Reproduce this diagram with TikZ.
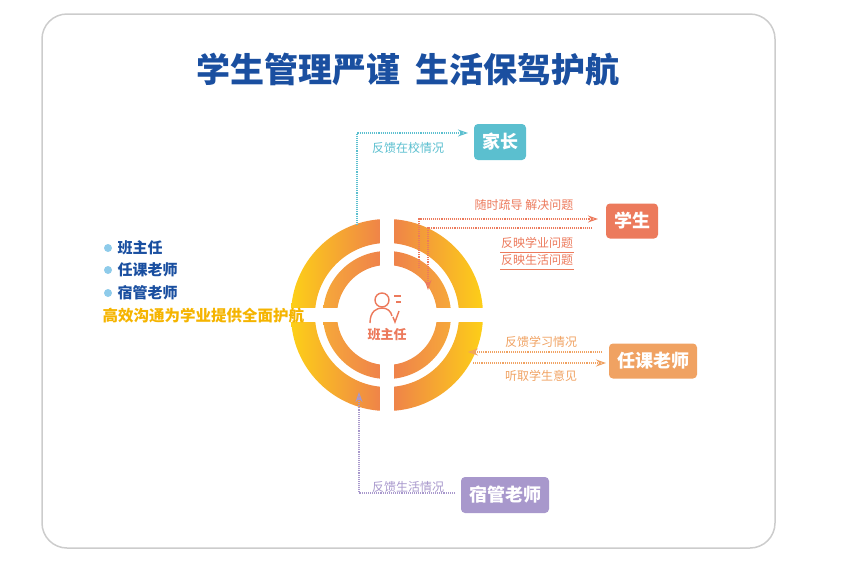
\documentclass[tikz,border=0pt]{standalone}
\usepackage{fontspec}
\setmainfont{Noto Sans CJK SC}
\usetikzlibrary{arrows.meta}
\definecolor{tblue}{HTML}{1A4FA0}
\definecolor{cpar}{HTML}{5BBFCF}
\definecolor{cstu}{HTML}{EC7A5C}
\definecolor{ctea}{HTML}{F0A262}
\definecolor{cdor}{HTML}{A898CC}
\definecolor{cY}{HTML}{FDD017}
\definecolor{cO}{HTML}{EE7E4C}
\definecolor{cY2}{HTML}{F6A93A}
\definecolor{cgold}{HTML}{F5B400}
\definecolor{cdot}{HTML}{8ECBEA}
\begin{document}
\begin{tikzpicture}[x=1pt,y=-1pt,
  box/.style={rounded corners=4pt,text=white,font=\bfseries\fontsize{18}{18}\selectfont,minimum height=36,inner xsep=8pt},
  lab/.style={font=\fontsize{12}{12}\selectfont},
  con/.style={densely dotted,line width=1.1pt,-{Stealth[length=10pt,width=7pt,open]}},
  item/.style={anchor=west,text=tblue,font=\bfseries\fontsize{15}{15}\selectfont}]
\useasboundingbox (0,0) rectangle (854,563);
\draw[gray!40,line width=1.5pt,rounded corners=25pt] (42,14) rectangle (775,548);
\node[text=tblue,font=\bfseries\fontsize{34}{34}\selectfont] (title) at (408,70) {学生管理严谨\ \ 生活保驾护航};
% rings
\coordinate (c) at (387,315);
\begin{scope}[even odd rule]
\clip (c) circle (96) (c) circle (72);
\shade[left color=cY,right color=cO] (290,215) rectangle (387,415);
\shade[left color=cO,right color=cY] (387,215) rectangle (484,415);
\end{scope}
\begin{scope}[even odd rule]
\clip (c) circle (64) (c) circle (50);
\shade[left color=cY2,right color=cO] (322,250) rectangle (387,380);
\shade[left color=cO,right color=cY2] (387,250) rectangle (452,380);
\end{scope}
\fill[white] (380,215) rectangle (394,415);
\fill[white] (287,308) rectangle (487,322);
% icon
\begin{scope}[cstu,line width=1.4pt]
\draw (382,300) circle (7);
\draw (370,323) .. controls (370,311) and (377,308) .. (382,308) .. controls (387,308) and (391,311) .. (392,316);
\draw (394,296) -- (401,296) (396,302) -- (401,302);
\draw (393,317) -- (395,322) -- (399,311);
\end{scope}
\node[text=cstu,font=\bfseries\fontsize{13}{13}\selectfont] (bzr) at (387,335) {班主任};
% boxes
\node[box,fill=cpar] (par) at (500,142) {家长};
\node[box,fill=cstu,minimum height=35] (stu) at (632,221) {学生};
\node[box,fill=ctea,minimum height=35] (tea) at (653,361) {任课老师};
\node[box,fill=cdor] (dor) at (505,495) {宿管老师};
% left list
\foreach \y/\t [count=\i] in {248/班主任,270/任课老师,293/宿管老师}{
  \fill[cdot] (108,\y) circle (4);
  \node[item] (it\i) at (114,\y) {\t};}
\node[anchor=west,text=cgold,font=\bfseries\fontsize{15.5}{15.5}\selectfont] (slog) at (99,316) {高效沟通为学业提供全面护航};
% connectors
\coordinate (p0) at (357,225); \coordinate (p1) at (357,133); \coordinate (p2) at (468,133);
\draw[con,cpar] (p0) -- (p1) -- (p2);
\node[lab,text=cpar] (lp) at (408,148) {反馈在校情况};
\coordinate (s0) at (419,268); \coordinate (s1) at (419,219); \coordinate (s2) at (598,219);
\draw[con,cstu] (s0) -- (s1) -- (s2);
\coordinate (t0) at (592,228); \coordinate (t1) at (428,228); \coordinate (t2) at (428,290);
\draw[con,cstu] (t0) -- (t1) -- (t2);
\node[lab,text=cstu] (ls1) at (524,205) {随时疏导\ 解决问题};
\node[lab,text=cstu] (ls2) at (537,243) {反映学业问题};
\node[lab,text=cstu] (ls3) at (537,260) {反映生活问题};
\draw[cstu,line width=0.8pt] (500,252) -- (574,252) (500,269) -- (574,269);
\coordinate (k0) at (602,352); \coordinate (k1) at (468,352);
\draw[con,ctea] (k0) -- (k1);
\coordinate (k2) at (473,363); \coordinate (k3) at (606,363);
\draw[con,ctea] (k2) -- (k3);
\node[lab,text=ctea] (lt1) at (541,342) {反馈学习情况};
\node[lab,text=ctea] (lt2) at (541,376) {听取学生意见};
\coordinate (d0) at (455,493); \coordinate (d1) at (359,493); \coordinate (d2) at (359,392);
\draw[con,cdor] (d0) -- (d1) -- (d2);
\node[lab,text=cdor] (ld) at (408,487) {反馈生活情况};
\end{tikzpicture}
\end{document}
